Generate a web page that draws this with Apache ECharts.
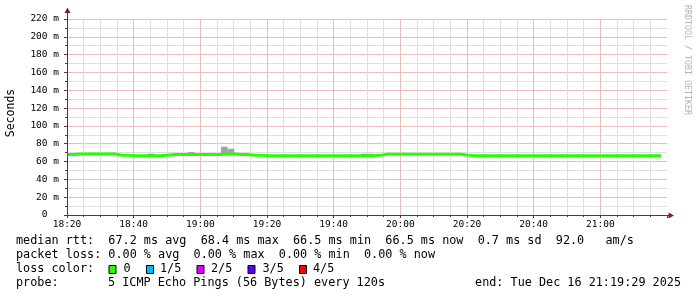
<!DOCTYPE html>
<html><head><meta charset="utf-8">
<script src="https://cdn.jsdelivr.net/npm/echarts@6/dist/echarts.min.js"></script>
<style>html,body{margin:0;padding:0;background:#fff}#c{width:697px;height:297px}</style>
</head><body><div id="c"></div>
<script>
// ---- data ----
const stepMinutes = 2;              // probe every 120 s
const firstSampleMinute = 1100.2;   // minutes of day (18:20:12)
const medianRtt = [
  67.8,
  68.4, 68.4, 68.4, 68.4, 68.4, 68.4,
  67.2, 67.2,
  66.5, 66.5, 66.5, 66.5, 66.5,
  67.2,
  67.8, 67.8, 67.8, 67.8, 67.8, 67.8, 67.8, 67.8,
  68.4, 68.4,
  67.8, 67.8,
  67.2, 67.2,
  66.5, 66.5, 66.5, 66.5, 66.5, 66.5, 66.5, 66.5, 66.5, 66.5, 66.5, 66.5, 66.5, 66.5, 66.5, 66.5, 66.5,
  67.2,
  68.2, 68.2, 68.2, 68.2, 68.2, 68.2, 68.2, 68.2, 68.2, 68.2, 68.2, 68.2,
  67.2,
  66.5, 66.5, 66.5, 66.5, 66.5, 66.5, 66.5, 66.5, 66.5, 66.5, 66.5, 66.5, 66.5, 66.5, 66.5,
  66.5, 66.5, 66.5, 66.5, 66.5, 66.5, 66.5, 66.5, 66.5, 66.5, 66.5, 66.5, 66.5, 66.5
];
const pingMax = [
  67.8,
  68.4, 68.4, 68.4, 68.4, 68.4, 69.9,
  68.9, 67.2,
  66.5, 66.5, 66.5, 68.8, 66.5,
  67.2,
  67.8, 67.8, 67.8, 70.8, 67.8, 67.8, 67.8, 67.8,
  76.7, 74.4,
  67.8, 67.8,
  67.2, 67.2,
  66.5, 66.5, 66.5, 66.5, 66.5, 66.5, 66.5, 66.5, 66.5, 66.5, 66.5, 66.5, 66.5, 66.5, 66.5, 68.8, 68.8,
  67.2,
  68.2, 68.2, 68.2, 68.2, 68.2, 68.2, 68.2, 68.2, 68.2, 68.2, 68.2, 68.2,
  67.2,
  66.5, 66.5, 66.5, 66.5, 66.5, 66.5, 66.5, 66.5, 66.5, 66.5, 66.5, 66.5, 66.5, 66.5, 66.5,
  66.5, 66.5, 66.5, 66.5, 66.5, 66.5, 66.5, 66.5, 66.5, 66.5, 66.5, 66.5, 66.5, 66.5
];
const xTickLabels = ['18:20','18:40','19:00','19:20','19:40','20:00','20:20','20:40','21:00'];
const yTickLabels = ['0\u00a0\u00a0','20 m','40 m','60 m','80 m','100 m','120 m','140 m','160 m','180 m','200 m','220 m'];
const legendLine1 = 'median rtt:  67.2 ms avg  68.4 ms max  66.5 ms min  66.5 ms now  0.7 ms sd  92.0   am/s';
const legendLine2 = 'packet loss: 0.00 % avg  0.00 % max  0.00 % min  0.00 % now';
const lossLabel = 'loss color:';
const lossNames = ['0','1/5','2/5','3/5','4/5'];
const lossColors = ['#26ff00','#00b8ff','#dd00ff','#5e00ff','#ff0000'];
const probeLabel = 'probe:';
const probeText = '5 ICMP Echo Pings (56 Bytes) every 120s';
const endText = 'end: Tue Dec 16 21:19:29 2025';
const yAxisTitle = 'Seconds';
const watermark = 'RRDTOOL / TOBI OETIKER';

// ---- build ----
const MONO = '"DejaVu Sans Mono", monospace';
const times = medianRtt.map((_, i) => firstSampleMinute + i * stepMinutes);
const lineData = medianRtt.map((v, i) => [times[i], v]);
lineData.push([times[times.length - 1] + stepMinutes, medianRtt[medianRtt.length - 1]]);
const smokeData = medianRtt.map((v, i) => [times[i], times[i] + stepMinutes, v, pingMax[i]]);

const chart = echarts.init(document.getElementById('c'), null, {renderer: 'canvas'});

const gridGray = '#e0e0e0';
const gridRed = '#ecbdbd';
const axisColor = '#404040';
const arrowColor = '#8b1a1a';

const graphics = [];
graphics.push({type: 'line', shape: {x1: 67.5, y1: 19, x2: 67.5, y2: 11}, style: {stroke: axisColor, lineWidth: 1}, z: 10});
graphics.push({type: 'polygon', shape: {points: [[64.5, 13], [67.5, 7.5], [70.5, 13]]}, style: {fill: arrowColor}, z: 10});
graphics.push({type: 'line', shape: {x1: 667, y1: 215.5, x2: 670, y2: 215.5}, style: {stroke: axisColor, lineWidth: 1}, z: 10});
graphics.push({type: 'polygon', shape: {points: [[668.5, 212.5], [674, 215.5], [668.5, 218.5]]}, style: {fill: arrowColor}, z: 10});
graphics.push({type: 'text', x: 11, y: 113, rotation: Math.PI / 2,
  style: {text: yAxisTitle, font: '11.5px ' + MONO, fill: '#000', align: 'center', verticalAlign: 'middle'}});
graphics.push({type: 'text', x: 687, y: 60, rotation: -Math.PI / 2,
  style: {text: watermark, font: '8.3px ' + MONO, fill: '#b4b4b4', align: 'center', verticalAlign: 'middle'}});
const LF = '11.8px ' + MONO;
graphics.push({type: 'text', x: 16, y: 241, style: {text: legendLine1, font: LF, fill: '#000', verticalAlign: 'middle'}});
graphics.push({type: 'text', x: 16, y: 255, style: {text: legendLine2, font: LF, fill: '#000', verticalAlign: 'middle'}});
graphics.push({type: 'text', x: 16, y: 269, style: {text: lossLabel, font: LF, fill: '#000', verticalAlign: 'middle'}});
const boxX = [108.5, 146, 196.5, 247.5, 299];
const nameX = [123.5, 160, 211, 262.5, 313];
lossNames.forEach((n, i) => {
  graphics.push({type: 'rect', shape: {x: boxX[i] + 0.5, y: 265.5, width: 7, height: 8}, style: {fill: lossColors[i], stroke: '#000', lineWidth: 1}});
  graphics.push({type: 'text', x: nameX[i], y: 269, style: {text: n, font: LF, fill: '#000', verticalAlign: 'middle'}});
});
graphics.push({type: 'text', x: 16, y: 283, style: {text: probeLabel, font: LF, fill: '#000', verticalAlign: 'middle'}});
graphics.push({type: 'text', x: 108, y: 283, style: {text: probeText, font: LF, fill: '#000', verticalAlign: 'middle'}});
graphics.push({type: 'text', x: 681, y: 283, style: {text: endText, font: LF, fill: '#000', align: 'right', verticalAlign: 'middle'}});

chart.setOption({
  animation: false,
  backgroundColor: '#ffffff',
  grid: {left: 67, top: 19, width: 600, height: 196, containLabel: false},
  xAxis: {
    type: 'value', min: 1100, max: 1280, interval: 20,
    axisLine: {show: true, lineStyle: {color: axisColor, width: 1}},
    axisTick: {show: true, length: 3, lineStyle: {color: axisColor}},
    minorTick: {show: true, splitNumber: 4, length: 2, lineStyle: {color: axisColor}},
    axisLabel: {
      margin: 5, color: '#000', fontFamily: MONO, fontSize: 9.5, showMaxLabel: false,
      formatter: v => { const i = Math.round((v - 1100) / 20); return xTickLabels[i] || ''; }
    },
    splitLine: {show: true, showMaxLine: false, lineStyle: {color: gridRed, width: 1, type: 'solid'}},
    minorSplitLine: {show: true, lineStyle: {color: gridGray, width: 1, type: 'solid'}}
  },
  yAxis: {
    type: 'value', min: 0, max: 220, interval: 20,
    axisLine: {show: true, lineStyle: {color: axisColor, width: 1}},
    axisTick: {show: true, length: 3, lineStyle: {color: axisColor}},
    minorTick: {show: true, splitNumber: 2, length: 2, lineStyle: {color: axisColor}},
    axisLabel: {
      margin: 8, color: '#000', fontFamily: MONO, fontSize: 9.5,
      formatter: v => yTickLabels[Math.round(v / 20)] || ''
    },
    splitLine: {show: true, lineStyle: {color: gridRed, width: 1, type: 'solid'}},
    minorSplitLine: {show: true, lineStyle: {color: gridGray, width: 1, type: 'solid'}}
  },
  series: [
    {
      type: 'custom', name: 'smoke', data: smokeData, z: 2,
      encode: {x: [0, 1], y: [2, 3]},
      renderItem: (params, api) => {
        const lo = api.value(2), hi = api.value(3);
        if (!(hi > lo)) return null;
        const p0 = api.coord([api.value(0), hi]);
        const p1 = api.coord([api.value(1), lo]);
        return {type: 'rect', shape: {x: p0[0], y: p0[1], width: p1[0] - p0[0], height: p1[1] - p0[1]}, style: {fill: '#a3a3a3'}};
      }
    },
    {
      type: 'line', name: 'median rtt', data: lineData, step: 'end', z: 3,
      symbol: 'none', lineStyle: {color: '#26ff00', width: 3}
    }
  ],
  graphic: graphics
});
</script>
</body></html>
